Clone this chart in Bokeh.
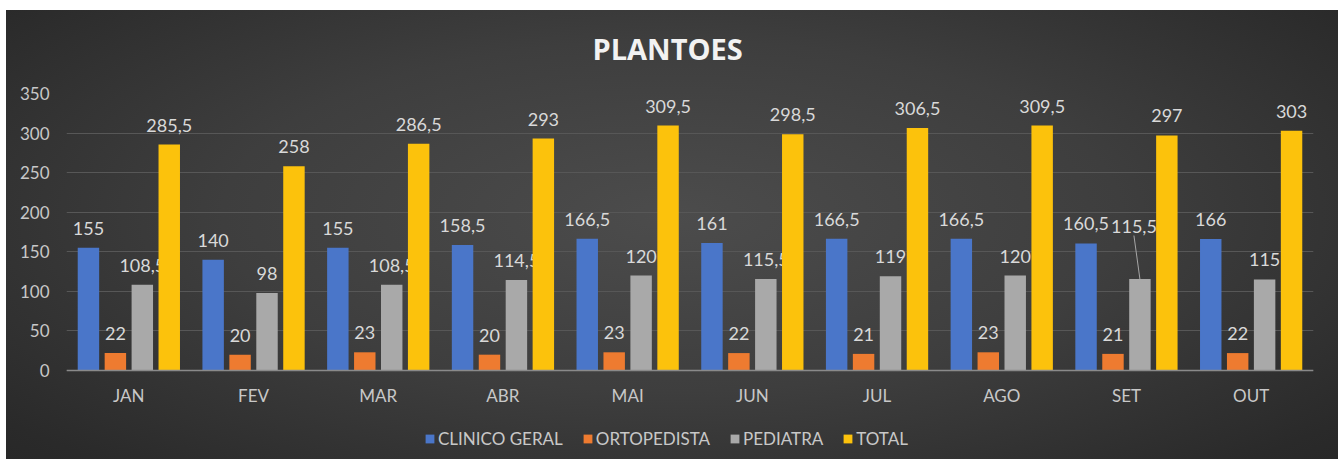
from bokeh.plotting import figure
from bokeh.models import ColumnDataSource, FactorRange, Legend, LegendItem
from bokeh.transform import dodge
from bokeh.core.properties import value
from bokeh.embed import file_html
from bokeh.resources import INLINE

months = ["JAN", "FEV", "MAR", "ABR", "MAI", "JUN", "JUL", "AGO", "SET", "OUT"]
clinico_geral = [155, 140, 155, 158.5, 166.5, 161, 166.5, 166.5, 160.5, 166]
ortopedista = [22, 20, 23, 20, 23, 22, 21, 23, 21, 22]
pediatra = [108.5, 98, 108.5, 114.5, 120, 115.5, 119, 120, 115.5, 115]
total = [285.5, 258, 286.5, 293, 309.5, 298.5, 306.5, 309.5, 297, 303]
series_names = ["CLINICO GERAL", "ORTOPEDISTA", "PEDIATRA", "TOTAL"]
y_ticks = [0, 50, 100, 150, 200, 250, 300, 350]

colors = ["#4a76c9", "#ee7b30", "#a9a9a9", "#fcc20c"]
offsets = [-0.324, -0.108, 0.108, 0.324]
FONT = "Lato"
LABEL_COLOR = "#d9d9d9"
AXIS_COLOR = "#c8c8c8"

# layout (pixels)
W, H = 1332, 459
LEFT, RIGHT, TOP = 60, 25, 93
FRAME_H = H - TOP
PLOT_H = 277  # pixels from 0 to 350
Y_MAX = 350
Y_MIN = -Y_MAX * (FRAME_H - PLOT_H) / PLOT_H


def fmt(v):
    return ("%g" % v).replace(".", ",")


def src(vals, skip=None):
    labels = [fmt(v) if m != skip else "" for m, v in zip(months, vals)]
    return ColumnDataSource(dict(months=months, val=vals, lab=labels))


p = figure(
    x_range=FactorRange(*months, range_padding=0),
    y_range=(Y_MIN, Y_MAX),
    width=W, height=H,
    output_backend="svg", toolbar_location=None,
    min_border_left=LEFT, min_border_right=RIGHT, min_border_top=TOP, min_border_bottom=0,
)
p.styles = {
    "margin-left": "6px",
    "background": ("linear-gradient(#ffffff, #ffffff) top left / 100% 10px no-repeat, "
                   "radial-gradient(ellipse 75% 85% at 50% 47%, #4c4c4c 0%, #3e3e3e 45%, #2a2a2a 85%, #252525 100%)"),
}
p.background_fill_alpha = 0
p.border_fill_alpha = 0
p.outline_line_color = None

p.title.text = "PLANTOES"
p.title.align = "left"
p.title.offset = 526
p.title.text_font = "Open Sans"
p.title.text_font_size = "29px"
p.title.text_font_style = "bold"
p.title.text_color = "#f2f2f2"
p.title.standoff = 51

all_series = [clinico_geral, ortopedista, pediatra, total]
items = []
for name, vals, c, off in zip(series_names, all_series, colors, offsets):
    skip = "SET" if name == "PEDIATRA" else None
    s = src(vals, skip)
    xd = dodge("months", off, range=p.x_range)
    r = p.vbar(x=xd, top="val", width=0.172, source=s, fill_color=c, line_color=None)
    p.text(x=xd, y="val", text="lab", source=s, text_align="center", text_baseline="bottom",
           y_offset=-13, text_font=value(FONT), text_font_size="18px", text_color=LABEL_COLOR)
    items.append(LegendItem(label=name, renderers=[r]))

# displaced label with leader line (SET / PEDIATRA)
i = months.index("SET")
lead = ColumnDataSource(dict(months=["SET"], val=[pediatra[i]], top=[pediatra[i] + 55], lab=[fmt(pediatra[i])]))
p.segment(x0=dodge("months", 0.108, range=p.x_range), y0="val",
          x1=dodge("months", 0.06, range=p.x_range), y1="top", source=lead,
          line_color="#a6a6a6", line_width=1)
p.text(x=dodge("months", 0.06, range=p.x_range), y="top", text="lab", source=lead,
       text_align="center", text_baseline="bottom", y_offset=-3,
       text_font=value(FONT), text_font_size="18px", text_color=LABEL_COLOR)

p.yaxis.ticker = y_ticks
p.yaxis.axis_line_color = None
p.yaxis.major_tick_line_color = None
p.yaxis.minor_tick_line_color = None
p.yaxis.major_label_standoff = 11
p.yaxis.major_label_text_font = FONT
p.yaxis.major_label_text_font_size = "17px"
p.yaxis.major_label_text_color = AXIS_COLOR

p.xaxis.fixed_location = 0
p.xaxis.axis_line_color = "#8a8a8a"
p.xaxis.axis_line_width = 1.5
p.xaxis.major_tick_line_color = None
p.xaxis.minor_tick_line_color = None
p.xaxis.major_label_standoff = 8
p.xaxis.major_label_text_font = FONT
p.xaxis.major_label_text_font_size = "17px"
p.xaxis.major_label_text_color = AXIS_COLOR

p.xgrid.grid_line_color = None
p.ygrid.ticker = y_ticks
p.ygrid.grid_line_color = "#575757"
p.ygrid.grid_line_width = 1

legend = Legend(items=items, orientation="horizontal", location=(358, 10),
                background_fill_alpha=0, border_line_color=None,
                label_text_font=FONT, label_text_font_size="17px", label_text_color=AXIS_COLOR,
                glyph_width=11, glyph_height=11, label_standoff=3, spacing=19,
                padding=4, margin=0, label_height=17)
p.add_layout(legend)

open("out.html", "w").write(file_html(p, INLINE))
